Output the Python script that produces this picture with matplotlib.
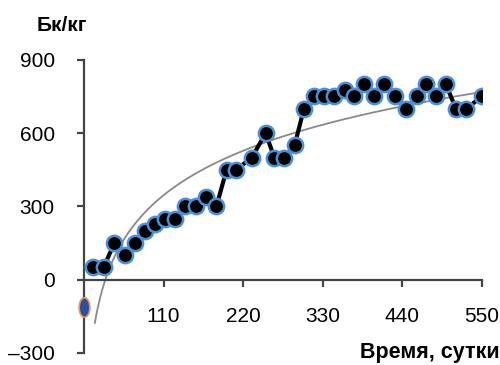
import numpy as np
import matplotlib.pyplot as plt

plt.rcParams['font.family'] = ['Liberation Sans', 'DejaVu Sans']

days = [12, 27, 42, 56, 70, 84, 98, 112, 126, 140, 155, 169, 183, 197, 210,
        232, 251, 263, 277, 291, 304, 318, 332, 346, 360, 373, 387, 401, 415,
        430, 445, 460, 473, 486, 500, 514, 528, 550]
bq = [50, 50, 150, 100, 150, 200, 230, 250, 250, 300, 300, 340, 300, 450, 450,
      500, 600, 500, 500, 550, 700, 750, 750, 750, 775, 750, 800, 750, 800,
      750, 700, 750, 800, 750, 800, 700, 700, 750]
start_day = [0]
start_bq = [-110]

xticks = [110, 220, 330, 440, 550]
yticks = [-300, 0, 300, 600, 900]
ylabels = ['\u2013300', '0', '300', '600', '900']

# log trend fitted to the data
a, b = np.polyfit(np.log(days), bq, 1)
tx = np.linspace(15, 550, 300)
ty = a * np.log(tx) + b

fig = plt.figure(figsize=(5, 3.65), dpi=100)
ax = fig.add_axes([0.168, 0.033, 0.796, 0.803])

ax.plot(tx, ty, color='#8a8a8a', lw=1.3, zorder=2)
ax.plot(days, bq, color='black', lw=3, marker='o', ms=11,
        mfc='black', mec='#4a8fd8', mew=1.8, zorder=3)

t = np.linspace(0, 2 * np.pi, 40)
ell = np.c_[0.55 * np.cos(t), np.sin(t)]
ax.plot(start_day, start_bq, ls='none', marker=ell, ms=14,
        mfc='#2f4f9a', mec='#e09a50', mew=1.2, zorder=4, clip_on=False)

ax.set_xlim(0, 550)
ax.set_ylim(-300, 900)
ax.spines['top'].set_visible(False)
ax.spines['right'].set_visible(False)
ax.spines['bottom'].set_position(('data', 0))
for s in ['left', 'bottom']:
    ax.spines[s].set_color('#444444')
    ax.spines[s].set_linewidth(1.6)

ax.set_xticks(xticks)
ax.set_yticks(yticks)
ax.set_yticklabels(ylabels)
ax.tick_params(axis='both', direction='out', length=5, width=1.6,
               color='#444444', labelsize=15)
ax.tick_params(axis='x', pad=15)
ax.tick_params(axis='y', pad=16)

fig.text(0.074, 0.93, 'Бк/кг', fontsize=15, fontweight='bold', va='center')
fig.text(0.999, 0.033, 'Время, сутки', fontsize=15.5, fontweight='bold',
         ha='right', va='center')

fig.savefig('out.png', dpi=100)
